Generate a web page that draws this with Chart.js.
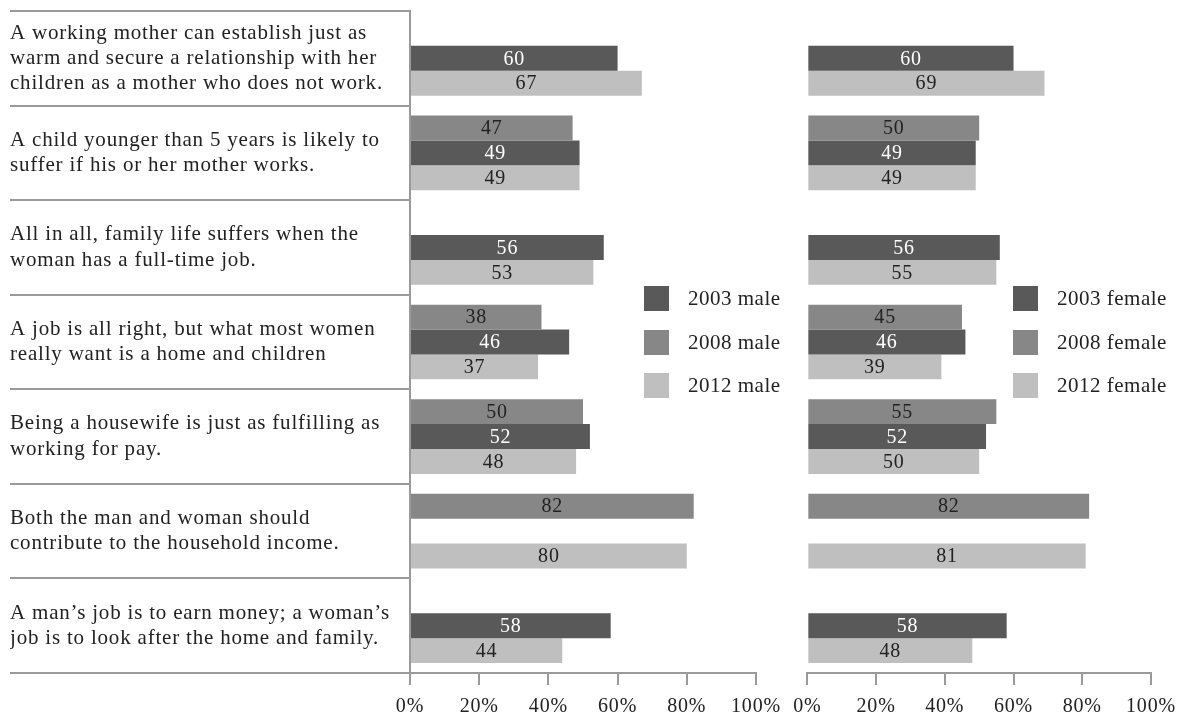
<!DOCTYPE html>
<html>
<head>
<meta charset="utf-8">
<script src="https://cdn.jsdelivr.net/npm/chart.js@4/dist/chart.umd.min.js"></script>
<style>
  html, body { margin: 0; padding: 0; background: #fff; }
  body { width: 1185px; height: 717px; position: relative; overflow: hidden; font-family: "Liberation Serif", "DejaVu Serif", serif; }
  .box { position: absolute; top: 0; height: 717px; }
  #leftBox { left: 0; width: 790px; }
  #rightBox { left: 784px; width: 401px; }
  .legend { position: absolute; font-size: 21px; letter-spacing: 0.5px; color: #222; }
  .legend .item { position: absolute; left: 0; white-space: nowrap; height: 25px; }
  .legend .sw { position: absolute; left: 0; top: 0; width: 25px; height: 25px; }
  .legend .tx { position: absolute; top: 0; line-height: 25px; left: 44px; }
</style>
</head>
<body>
<div class="box" id="leftBox"><canvas id="cLeft"></canvas></div>
<div class="box" id="rightBox"><canvas id="cRight"></canvas></div>
<div class="legend" id="legLeft" style="left:644px; top:286px;"></div>
<div class="legend" id="legRight" style="left:1013px; top:286px;"></div>
<script>
const categories = [
  ["A working mother can establish just as", "warm and secure a relationship with her", "children as a mother who does not work."],
  ["A child younger than 5 years is likely to", "suffer if his or her mother works."],
  ["All in all, family life suffers when the", "woman has a full-time job."],
  ["A job is all right, but what most women", "really want is a home and children"],
  ["Being a housewife is just as fulfilling as", "working for pay."],
  ["Both the man and woman should", "contribute to the household income."],
  ["A man\u2019s job is to earn money; a woman\u2019s", "job is to look after the home and family."]
];
const xTicks = [0, 20, 40, 60, 80, 100];

const male2003 = [60, 49, 56, 46, 52, null, 58];
const male2008 = [null, 47, null, 38, 50, 82, null];
const male2012 = [67, 49, 53, 37, 48, 80, 44];

const female2003 = [60, 49, 56, 46, 52, null, 58];
const female2008 = [null, 50, null, 45, 55, 82, null];
const female2012 = [69, 49, 55, 39, 50, 81, 48];

const maleLabels = ["2003 male", "2008 male", "2012 male"];
const femaleLabels = ["2003 female", "2008 female", "2012 female"];

const C2003 = "#595959", C2008 = "#878787", C2012 = "#bfbfbf";
const LINE = "#9a9a9a";
const FONT = "'Liberation Serif', 'DejaVu Serif', serif";

const spacing = {
  id: "spacing",
  beforeDraw(chart) { chart.ctx.letterSpacing = "0.8px"; }
};

const valueLabels = {
  id: "valueLabels",
  afterDatasetsDraw(chart) {
    const ctx = chart.ctx;
    ctx.save();
    ctx.font = "20px " + FONT;
    ctx.textAlign = "center";
    ctx.textBaseline = "middle";
    chart.data.datasets.forEach((ds, i) => {
      const meta = chart.getDatasetMeta(i);
      meta.data.forEach((el, j) => {
        const v = ds.data[j];
        if (v === null || v === undefined) return;
        ctx.fillStyle = ds.labelColor;
        ctx.fillText(String(v), (el.x + el.base) / 2, el.y + 1);
      });
    });
    ctx.restore();
  }
};

function makeDatasets(d2003, d2008, d2012, labels) {
  // order top to bottom in each group: 2008, 2003, 2012
  return [
    { label: labels[1], data: d2008, backgroundColor: C2008, labelColor: "#222" },
    { label: labels[0], data: d2003, backgroundColor: C2003, labelColor: "#fff" },
    { label: labels[2], data: d2012, backgroundColor: C2012, labelColor: "#222" }
  ];
}

function xScale() {
  return {
    type: "linear",
    min: 0, max: 100,
    afterBuildTicks(s) { s.ticks = xTicks.map(v => ({ value: v })); },
    afterFit(s) { s.height = 44; },
    border: { display: true, color: LINE, width: 2 },
    grid: { drawOnChartArea: false, drawTicks: true, tickLength: 12, color: LINE, lineWidth: 2 },
    ticks: { padding: 10, color: "#222", font: { family: FONT, size: 20 }, callback: v => v + "%" }
  };
}

function makeChart(id, datasets, showLabels, padding) {
  const yAxis = showLabels ? {
    type: "category",
    offset: true,
    afterFit(s) { s.width = 400; s.paddingTop = 0; s.paddingBottom = 0; },
    border: { display: true, color: LINE, width: 2 },
    grid: { offset: true, drawOnChartArea: false, drawTicks: true, tickLength: 400, color: LINE, lineWidth: 2 },
    ticks: { crossAlign: "far", padding: 0, color: "#222", font: { family: FONT, size: 21, lineHeight: 1.2 } }
  } : {
    type: "category",
    offset: true,
    display: false
  };
  return new Chart(document.getElementById(id), {
    type: "bar",
    data: { labels: categories, datasets: datasets },
    options: {
      indexAxis: "y",
      responsive: true,
      maintainAspectRatio: false,
      animation: false,
      events: [],
      layout: { padding: padding },
      datasets: { bar: { categoryPercentage: 0.79, barPercentage: 1.0, borderWidth: 0 } },
      plugins: { legend: { display: false }, tooltip: { enabled: false } },
      scales: { x: xScale(), y: yAxis }
    },
    plugins: [spacing, valueLabels]
  });
}

makeChart("cLeft", makeDatasets(male2003, male2008, male2012, maleLabels), true,
  { left: 10, top: 11, right: 34, bottom: 0 });
makeChart("cRight", makeDatasets(female2003, female2008, female2012, femaleLabels), false,
  { left: 14, top: 11, right: 34, bottom: 0 });

function buildLegend(elId, labels) {
  const el = document.getElementById(elId);
  const cols = [C2003, C2008, C2012];
  labels.forEach((t, i) => {
    const item = document.createElement("div");
    item.className = "item";
    item.style.top = (i * 43.5) + "px";
    item.innerHTML = '<span class="sw" style="background:' + cols[i] + '"></span><span class="tx">' + t + '</span>';
    el.appendChild(item);
  });
}
buildLegend("legLeft", maleLabels);
buildLegend("legRight", femaleLabels);
</script>
</body>
</html>
